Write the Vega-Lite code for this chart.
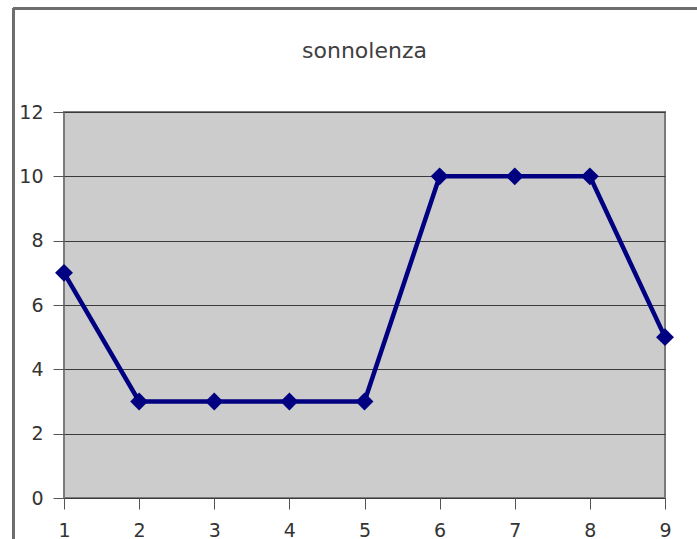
{
  "$schema": "https://vega.github.io/schema/vega-lite/v6.json",
  "width": 601,
  "height": 386,
  "autosize": {"type": "none"},
  "padding": {"left": 64, "top": 112, "right": 32, "bottom": 41},
  "background": "white",
  "title": {
    "text": "sonnolenza",
    "font": "DejaVu Sans",
    "fontSize": 22,
    "fontWeight": "normal",
    "color": "#404040",
    "anchor": "middle",
    "baseline": "alphabetic",
    "offset": -73
  },
  "config": {
    "view": {"fill": "#CCCCCC", "stroke": "#7a7a7a", "strokeWidth": 2},
    "axis": {
      "labelFont": "DejaVu Sans",
      "labelFontSize": 19,
      "labelColor": "#333333",
      "tickColor": "#555555",
      "tickSize": 11,
      "domain": false,
      "title": null
    }
  },
  "data": {
    "values": [
      {"punto": 1, "sonnolenza": 7},
      {"punto": 2, "sonnolenza": 3},
      {"punto": 3, "sonnolenza": 3},
      {"punto": 4, "sonnolenza": 3},
      {"punto": 5, "sonnolenza": 3},
      {"punto": 6, "sonnolenza": 10},
      {"punto": 7, "sonnolenza": 10},
      {"punto": 8, "sonnolenza": 10},
      {"punto": 9, "sonnolenza": 5}
    ]
  },
  "encoding": {
    "x": {
      "field": "punto",
      "type": "quantitative",
      "scale": {"domain": [1, 9], "nice": false, "zero": false},
      "axis": {"values": [1, 2, 3, 4, 5, 6, 7, 8, 9], "grid": false, "labelPadding": 12, "labelFlush": false}
    },
    "y": {
      "field": "sonnolenza",
      "type": "quantitative",
      "scale": {"domain": [0, 12], "nice": false},
      "axis": {"values": [0, 2, 4, 6, 8, 10, 12], "grid": true, "gridColor": "#3a3a3a", "gridWidth": 1, "labelPadding": 10, "labelFlush": false}
    }
  },
  "layer": [
    {
      "mark": {"type": "rule", "color": "#6e6e6e", "strokeWidth": 2, "clip": false},
      "encoding": {
        "x": {"datum": 0.326, "type": "quantitative"},
        "y": {"datum": -1.5, "type": "quantitative"},
        "y2": {"datum": 15.22}
      }
    },
    {
      "mark": {"type": "rule", "color": "#6e6e6e", "strokeWidth": 2, "clip": false},
      "encoding": {
        "x": {"datum": 0.326, "type": "quantitative"},
        "x2": {"datum": 9.6},
        "y": {"datum": 15.22, "type": "quantitative"}
      }
    },
    {
      "mark": {"type": "line", "color": "#000080", "strokeWidth": 4.5}
    },
    {
      "mark": {"type": "point", "shape": "diamond", "filled": true, "size": 320, "color": "#000080", "opacity": 1}
    }
  ]
}
